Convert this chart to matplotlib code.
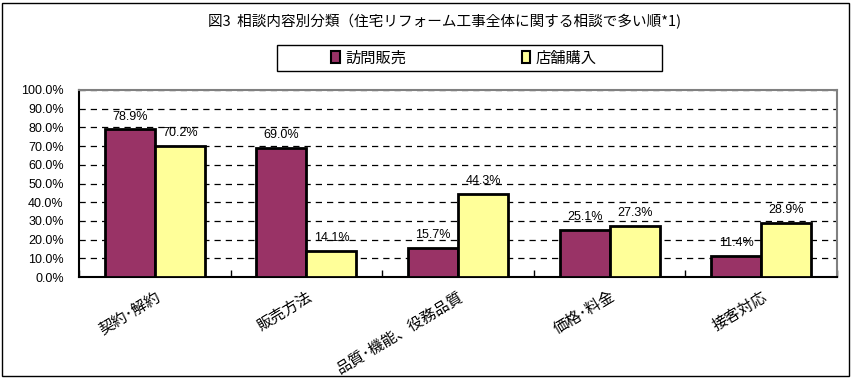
import matplotlib.pyplot as plt
from matplotlib.patches import Rectangle, Patch
import numpy as np

plt.rcParams['font.family'] = ['Liberation Sans', 'Noto Sans CJK JP', 'DejaVu Sans']

# data
categories = ['契約･解約', '販売方法', '品質･機能、役務品質', '価格･料金', '接客対応']
houmon = [78.9, 69.0, 15.7, 25.1, 11.4]
tenpo = [70.2, 14.1, 44.3, 27.3, 28.9]
series_names = ['訪問販売', '店舗購入']
title = '図3  相談内容別分類（住宅リフォーム工事全体に関する相談で多い順*1)'

cjk = ['Noto Sans CJK JP', 'DejaVu Sans']

fig = plt.figure(figsize=(8.53, 3.81), dpi=100)
ax = fig.add_axes([79/853, 1-277/381, (837-79)/853, (277-90)/381])

x = np.arange(len(categories))
w = 0.33
b1 = ax.bar(x - w/2, houmon, w, color='#993366', edgecolor='black', linewidth=2, zorder=3)
b2 = ax.bar(x + w/2, tenpo, w, color='#FFFF99', edgecolor='black', linewidth=2, zorder=3)

for bars, vals in [(b1, houmon), (b2, tenpo)]:
    for r, v in zip(bars, vals):
        ax.annotate('%.1f%%' % v, (r.get_x() + r.get_width()/2, v), xytext=(0, 5),
                    textcoords='offset points', ha='center', va='bottom', fontsize=9, zorder=4)

ax.set_xlim(-0.5, len(categories) - 0.5)
ax.set_ylim(0, 100)
ax.set_yticks(np.arange(0, 101, 10))
ax.set_yticklabels(['%.1f%%' % t for t in np.arange(0, 101, 10)], fontsize=9)
ax.tick_params(axis='y', length=0, pad=11)

# category boundaries get the ticks, names sit at the centres
ax.set_xticks(np.arange(-0.5, len(categories)), minor=False)
ax.set_xticklabels([])
ax.tick_params(axis='x', direction='in', length=5, width=1)
ax.set_xticks(x, minor=True)
ax.set_xticklabels(categories, minor=True, rotation=31, ha='right', va='top',
                   rotation_mode='anchor', fontsize=11, family=cjk)
ax.tick_params(axis='x', which='minor', length=0, pad=8)

ax.yaxis.grid(True, linestyle=(0, (5, 4)), color='black', linewidth=0.9)
ax.set_axisbelow(True)
for s in ['top', 'right']:
    ax.spines[s].set_color('#808080')
    ax.spines[s].set_linewidth(1.5)
for s in ['left', 'bottom']:
    ax.spines[s].set_linewidth(1.5)

fig.text(445/853, 1-22/381, title, ha='center', va='center', fontsize=10.5, family=cjk)

# legend: entries without frame, box drawn separately
handles = [Patch(facecolor='#993366', edgecolor='black', linewidth=1.5),
           Patch(facecolor='#FFFF99', edgecolor='black', linewidth=1.5)]
fig.legend(handles, series_names, loc='center', bbox_to_anchor=(464/853, 1-58/381),
           ncol=2, frameon=False, handlelength=0.55, handleheight=0.8, handletextpad=0.35,
           columnspacing=7.6, prop={'family': cjk, 'size': 11})
fig.patches.append(Rectangle((277/853, 1-71/381), 385/853, 26/381, transform=fig.transFigure,
                             fill=False, edgecolor='black', linewidth=1))

fig.patches.append(Rectangle((2/853, 5/381), 847/853, 373/381, transform=fig.transFigure,
                             fill=False, edgecolor='black', linewidth=1))

plt.savefig('out.png', dpi=100)
